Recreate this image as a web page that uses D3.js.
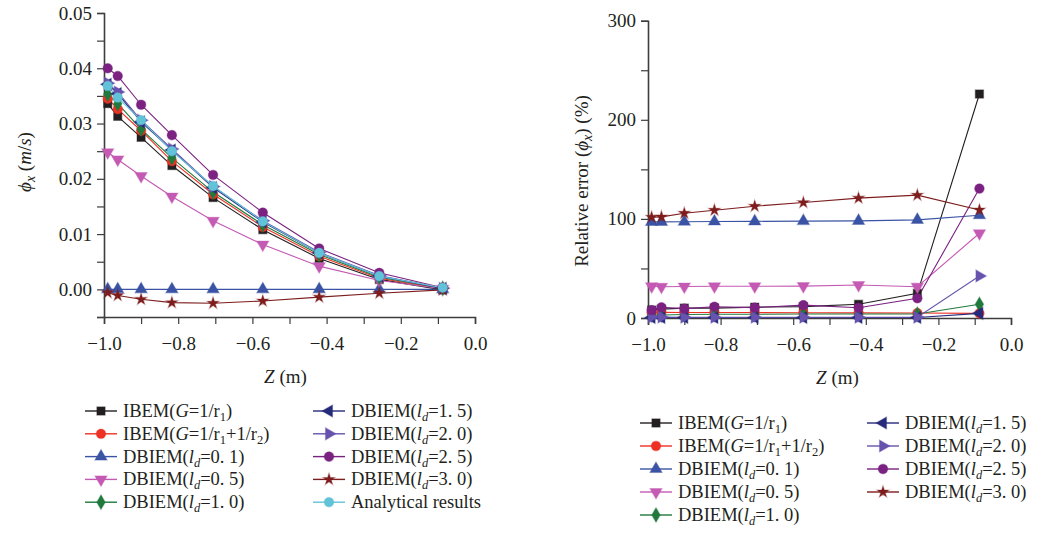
<!DOCTYPE html>
<html>
<head>
<meta charset="utf-8">
<script src="https://cdn.jsdelivr.net/npm/d3@7"></script>
<style>
  body { margin: 0; background: #fff; }
  text { font-family: "Liberation Serif", "DejaVu Serif", serif; fill: #231f20; }
</style>
</head>
<body>
<script>
'use strict';

// depth positions (m), same for both panels
const zValues = [-0.99, -0.963, -0.9, -0.817, -0.706, -0.572, -0.42, -0.258, -0.087];

// left panel: phi_x (m/s)
const phiIbem1 = [0.0336, 0.0313, 0.0275, 0.0224, 0.0166, 0.0108, 0.0056, 0.0018, -0.0001];
const phiIbem2 = [0.0345, 0.0326, 0.0287, 0.0232, 0.0172, 0.0113, 0.0060, 0.0020, 0.0001];
const phiD01 = [0.0000, 0.0000, 0.0000, 0.0000, 0.0000, 0.0000, 0.0000, 0.0000, 0.0000];
const phiD05 = [0.0248, 0.0235, 0.0205, 0.0168, 0.0124, 0.0081, 0.0042, 0.0016, 0.0001];
const phiD10 = [0.0353, 0.0336, 0.0290, 0.0238, 0.0176, 0.0117, 0.0063, 0.0022, 0.0002];
const phiD15 = [0.0371, 0.0354, 0.0303, 0.0252, 0.0184, 0.0122, 0.0066, 0.0024, 0.0002];
const phiD20 = [0.0373, 0.0357, 0.0306, 0.0254, 0.0186, 0.0124, 0.0067, 0.0025, 0.0002];
const phiD25 = [0.0400, 0.0386, 0.0334, 0.0279, 0.0207, 0.0139, 0.0074, 0.0030, 0.0003];
const phiD30 = [-0.0006, -0.0011, -0.0018, -0.0024, -0.0025, -0.0021, -0.0014, -0.0007, -0.0001];
const phiAnalytical = [0.0368, 0.0347, 0.0306, 0.0250, 0.0187, 0.0123, 0.0066, 0.0024, 0.0003];

// right panel: relative error (%)
const errIbem1 = [8, 9, 10, 10, 11, 11.5, 13.8, 24.9, 226];
const errIbem2 = [5.5, 5.7, 5.5, 5.5, 5.5, 5.3, 5.2, 5, 4.7];
const errD01 = [97, 97, 97.2, 97.4, 97.5, 97.8, 98, 99, 103.7];
const errD05 = [32, 31.5, 31.8, 32, 32, 32.2, 33.3, 31.6, 85.5];
const errD10 = [3, 3, 3.5, 3.8, 3.8, 4, 4, 4, 13.8];
const errD15 = [0.5, 0.5, 0.5, 0.5, 0.5, 0.5, 0.5, 0.5, 4.7];
const errD20 = [1, 1, 0.8, 0.8, 0.8, 0.8, 0.8, 0.8, 42.4];
const errD25 = [8, 10.8, 9.5, 11.4, 10.5, 13, 10.4, 19.9, 130.6];
const errD30 = [101.7, 102, 105.7, 108.8, 112.8, 116.5, 121, 124, 109];

const xTicks = [-1.0, -0.8, -0.6, -0.4, -0.2, 0.0];
const leftYTicks = [0.00, 0.01, 0.02, 0.03, 0.04, 0.05];
const rightYTicks = [0, 100, 200, 300];

// series styling
const styles = {
    ibem1: { color: "#231f20", shape: "square" },
    ibem2: { color: "#ee3124", shape: "circle" },
    d01: { color: "#3a53a4", shape: "up" },
    d05: { color: "#c45ab3", shape: "down" },
    d10: { color: "#1f7a3c", shape: "diamond" },
    d15: { color: "#262a7a", shape: "left" },
    d20: { color: "#6753ad", shape: "right" },
    d25: { color: "#7b2182", shape: "circle" },
    d30: { color: "#7e1d1d", shape: "star" },
    ana: { color: "#62c3d8", shape: "circle" }
};

// label parts: [text, kind]  kind: "" normal, "i" italic, "s" subscript, "si" italic subscript
const labels = {
    ibem1: [["IBEM(", ""], ["G", "i"], ["=1/r", ""], ["1", "s"], [")", ""]],
    ibem2: [["IBEM(", ""], ["G", "i"], ["=1/r", ""], ["1", "s"], ["+1/r", ""], ["2", "s"], [")", ""]],
    d01: [["DBIEM(", ""], ["l", "i"], ["d", "si"], ["=0. 1)", ""]],
    d05: [["DBIEM(", ""], ["l", "i"], ["d", "si"], ["=0. 5)", ""]],
    d10: [["DBIEM(", ""], ["l", "i"], ["d", "si"], ["=1. 0)", ""]],
    d15: [["DBIEM(", ""], ["l", "i"], ["d", "si"], ["=1. 5)", ""]],
    d20: [["DBIEM(", ""], ["l", "i"], ["d", "si"], ["=2. 0)", ""]],
    d25: [["DBIEM(", ""], ["l", "i"], ["d", "si"], ["=2. 5)", ""]],
    d30: [["DBIEM(", ""], ["l", "i"], ["d", "si"], ["=3. 0)", ""]],
    ana: [["Analytical results", ""]]
};

const leftSeries = [
    ["ibem1", phiIbem1], ["ibem2", phiIbem2], ["d01", phiD01], ["d05", phiD05], ["d10", phiD10],
    ["d15", phiD15], ["d20", phiD20], ["d25", phiD25], ["d30", phiD30], ["ana", phiAnalytical]
];
const rightSeries = [
    ["ibem1", errIbem1], ["ibem2", errIbem2], ["d01", errD01], ["d05", errD05], ["d10", errD10],
    ["d15", errD15], ["d20", errD20], ["d25", errD25], ["d30", errD30]
];

const svg = d3.select("body").append("svg")
    .attr("width", 1049)
    .attr("height", 533);

const axisColor = "#3d3d3d";

function symbolPath(shape) {
    const tri = d3.symbol().type(d3.symbolTriangle).size(64)();
    switch (shape) {
        case "square": return { d: d3.symbol().type(d3.symbolSquare).size(68)(), rot: 0 };
        case "circle": return { d: d3.symbol().type(d3.symbolCircle).size(72)(), rot: 0 };
        case "up": return { d: tri, rot: 0 };
        case "down": return { d: tri, rot: 180 };
        case "left": return { d: tri, rot: -90 };
        case "right": return { d: tri, rot: 90 };
        case "diamond": return { d: d3.symbol().type(d3.symbolDiamond).size(62)(), rot: 0 };
        case "star": return { d: d3.symbol().type(d3.symbolStar).size(42)(), rot: 0 };
    }
}

function drawMarker(g, x, y, key) {
    const st = styles[key];
    const s = symbolPath(st.shape);
    g.append("path")
        .attr("d", s.d)
        .attr("transform", "translate(" + x + "," + y + ") rotate(" + s.rot + ")")
        .attr("fill", st.color)
        .attr("stroke", st.color)
        .attr("stroke-opacity", 0.35)
        .attr("stroke-width", 1.2);
}

function richText(textSel, parts, subSize) {
    let prevSub = false;
    parts.forEach(function(p) {
        const t = textSel.append("tspan").text(p[0]);
        const isSub = p[1] === "s" || p[1] === "si";
        if (p[1] === "i" || p[1] === "si") t.attr("font-style", "italic");
        if (isSub) {
            t.attr("font-size", subSize || "12.5px").attr("dy", 4);
        } else if (prevSub) {
            t.attr("dy", -4);
        }
        prevSub = isSub;
    });
}

function drawPanel(opts) {
    const x = d3.scaleLinear().domain([-1.0, 0.0]).range([opts.left, opts.right]);
    const y = d3.scaleLinear().domain(opts.yDomain).range([opts.bottom, opts.top]);
    const g = svg.append("g");

    // x axis
    const xAxis = d3.axisBottom(x)
        .tickValues(d3.range(-1.0, 0.001, 0.1))
        .tickSize(7)
        .tickFormat(function(d) {
            return xTicks.some(function(t) { return Math.abs(t - d) < 1e-9; })
                ? d3.format(".1f")(d).replace("-", "\u2212") : "";
        });
    const gx = g.append("g")
        .attr("transform", "translate(0," + opts.bottom + ")")
        .call(xAxis);

    // y axis
    const yAxis = d3.axisLeft(y)
        .tickValues(opts.yMinor)
        .tickSize(7)
        .tickFormat(function(d) {
            return opts.yTicks.some(function(t) { return Math.abs(t - d) < 1e-9; }) ? opts.yFormat(d) : "";
        });
    const gy = g.append("g")
        .attr("transform", "translate(" + opts.left + ",0)")
        .call(yAxis);

    [gx, gy].forEach(function(a) {
        a.select(".domain").attr("stroke", axisColor).attr("stroke-width", 1.6);
        a.selectAll(".tick line").attr("stroke", axisColor).attr("stroke-width", 1.2);
        a.selectAll(".tick text").attr("font-size", "19px")
            .attr("font-family", "Liberation Serif, serif").attr("fill", "#231f20");
    });
    gx.selectAll(".tick text").attr("dy", "1.2em");
    gy.selectAll(".tick text").attr("dx", "-0.1em");

    // series
    const line = d3.line()
        .x(function(d) { return x(d[0]); })
        .y(function(d) { return y(d[1]); });

    opts.series.forEach(function(s) {
        const pts = zValues.map(function(z, i) { return [z, s[1][i]]; });
        g.append("path")
            .datum(pts)
            .attr("d", line)
            .attr("fill", "none")
            .attr("stroke", styles[s[0]].color)
            .attr("stroke-width", 1.1);
    });
    opts.series.forEach(function(s) {
        zValues.forEach(function(z, i) {
            drawMarker(g, x(z), y(s[1][i]), s[0]);
        });
    });

    // x label
    const xl = g.append("text")
        .attr("x", (opts.left + opts.right) / 2 + opts.xLabelShift)
        .attr("y", opts.bottom + 66)
        .attr("text-anchor", "middle")
        .attr("font-size", "19px");
    richText(xl, [["Z", "i"], [" (m)", ""]]);

    // y label
    const yl = g.append("text")
        .attr("transform", "translate(" + opts.yLabelX + "," + opts.yLabelY + ") rotate(-90)")
        .attr("text-anchor", "middle")
        .attr("font-size", "19px");
    richText(yl, opts.yLabel, "14px");

    // legend
    opts.legend.forEach(function(col) {
        col.keys.forEach(function(key, i) {
            const ly = col.y + i * opts.legendStep;
            const c = styles[key].color;
            g.append("line")
                .attr("x1", col.x).attr("x2", col.x + 32)
                .attr("y1", ly).attr("y2", ly)
                .attr("stroke", c).attr("stroke-width", 1.4);
            drawMarker(g, col.x + 16, ly, key);
            const t = g.append("text")
                .attr("x", col.x + 38)
                .attr("y", ly + 6)
                .attr("font-size", "18.5px");
            richText(t, labels[key]);
        });
    });
}

drawPanel({
    left: 104, right: 475, top: 13, bottom: 317,
    yDomain: [-0.005, 0.05],
    yMinor: d3.range(-0.005, 0.0501, 0.005),
    yTicks: leftYTicks,
    yFormat: d3.format(".2f"),
    series: leftSeries,
    xLabelShift: -4,
    yLabelX: 31, yLabelY: 162,
    yLabel: [["\u03D5", "i"], ["x", "si"], [" (", ""], ["m", "i"], ["/", ""], ["s", "i"], [")", ""]],
    legendStep: 22.8,
    legend: [
        { x: 85, y: 411, keys: ["ibem1", "ibem2", "d01", "d05", "d10"] },
        { x: 313, y: 411, keys: ["d15", "d20", "d25", "d30", "ana"] }
    ]
});

drawPanel({
    left: 648, right: 1011, top: 20.7, bottom: 318,
    yDomain: [0, 300],
    yMinor: d3.range(0, 301, 50),
    yTicks: rightYTicks,
    yFormat: d3.format("d"),
    series: rightSeries,
    xLabelShift: 8,
    yLabelX: 588, yLabelY: 181,
    yLabel: [["Relative error (", ""], ["\u03D5", "i"], ["x", "si"], [") (%)", ""]],
    legendStep: 23,
    legend: [
        { x: 640, y: 423, keys: ["ibem1", "ibem2", "d01", "d05", "d10"] },
        { x: 867, y: 423, keys: ["d15", "d20", "d25", "d30"] }
    ]
});
</script>
</body>
</html>
